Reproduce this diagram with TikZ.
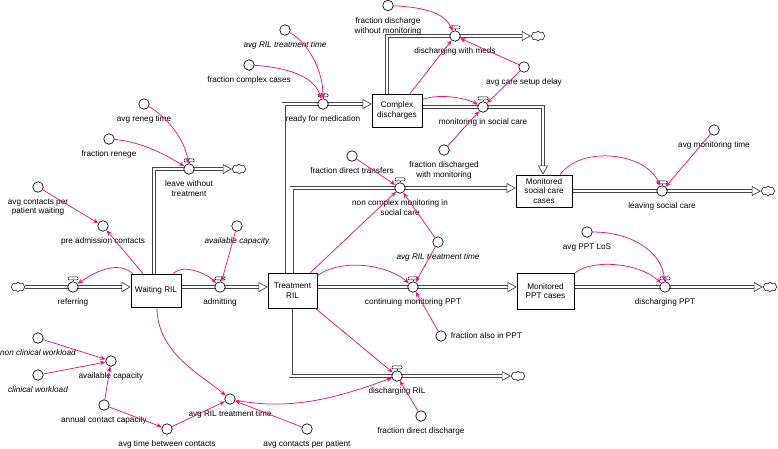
\documentclass[tikz,border=0pt]{standalone}
\usepackage{fontspec}
\setmainfont{Liberation Sans}
\usetikzlibrary{arrows.meta,shapes.symbols,calc,backgrounds}
\definecolor{lnk}{RGB}{240,20,125}
\begin{document}
\begin{tikzpicture}[x=1pt,y=-1pt,
  every node/.style={font=\fontsize{8.2}{9.8}\selectfont},
  stock/.style={draw=black, line width=0.8pt, fill=white, align=center, inner sep=1pt},
  aux/.style={circle, draw=black, line width=0.65pt, fill=white, minimum size=10.5pt, inner sep=0pt},
  valve/.style={circle, draw=black, line width=0.65pt, fill=white, minimum size=10.5pt, inner sep=0pt},
  lab/.style={align=center, inner sep=1pt, yshift=-5pt},
  rlab/.style={align=left, inner sep=1pt, xshift=3pt},
  ghost/.style={font=\fontsize{8.2}{9.8}\selectfont\itshape},
  cloudnode/.style={cloud, cloud puffs=8, draw=black, line width=0.5pt, fill=white, minimum width=14pt, minimum height=10pt, inner sep=0pt, aspect=1.5},
  pipe/.style={draw=black!72, line width=4pt, postaction={draw=white, line width=2.2pt}},
  pipetip/.style={draw=black!80, line width=0.6pt, -{Triangle[length=9pt,width=10pt,fill=white]}},
  link/.style={draw=lnk, line width=0.75pt, -{Stealth[length=5.5pt,width=4.5pt]}},
  handle/.style={draw=black, line width=0.5pt, fill=white, rounded corners=1pt},
]
\useasboundingbox (0,0) rectangle (778,448);

% stocks
\node[stock, minimum width=50pt, minimum height=33pt] (WR) at (156,290.5) {Waiting RIL};
\node[stock, minimum width=49pt, minimum height=35pt] (TR) at (292.5,290.5) {Treatment\\RIL};
\node[stock, minimum width=50pt, minimum height=33pt] (CD) at (397,110.5) {Complex\\discharges};
\node[stock, minimum width=56pt, minimum height=32pt] (MS) at (544,191) {Monitored\\social care\\cases};
\node[stock, minimum width=57pt, minimum height=36pt] (MP) at (545.5,291) {Monitored\\PPT cases};

% clouds
\node[cloudnode] (c0) at (18,287) {};
\node[cloudnode] (c1) at (239,169) {};
\node[cloudnode] (c2) at (538,36) {};
\node[cloudnode] (c3) at (518,376) {};
\node[cloudnode] (c4) at (768,191) {};
\node[cloudnode] (c5) at (770,287) {};

% valves
\node[valve, label={[lab]below:referring}] (vRef) at (73,287) {};
\node[valve, label={[lab]below:admitting}] (vAdm) at (220,287) {};
\node[valve, label={[lab]below:leave without\\treatment}] (vLeave) at (189,169) {};
\node[valve, label={[lab]below:ready for medication}] (vReady) at (323,104) {};
\node[valve, label={[lab]below:non complex monitoring in\\social care}] (vNonC) at (400,188) {};
\node[valve, label={[lab]below:continuing monitoring PPT}] (vCont) at (413,287) {};
\node[valve, label={[lab]below:discharging RIL}] (vDisR) at (397,376) {};
\node[valve, label={[lab]below:discharging with meds}] (vMeds) at (455,36) {};
\node[valve, label={[lab]below:monitoring in social care}] (vMon) at (483,107) {};
\node[valve, label={[lab]below:leaving social care}] (vLeaveS) at (662,191) {};
\node[valve, label={[lab]below:discharging PPT}] (vDisP) at (665,287) {};

\foreach \v in {vRef,vAdm,vLeave,vReady,vNonC,vCont,vDisR,vMeds,vMon,vLeaveS,vDisP}{
  \draw[line width=0.6pt] (\v.north) -- ([yshift=1.6pt]\v.north);
  \draw[handle] ([xshift=-5pt,yshift=1.5pt]\v.north) rectangle ([xshift=5pt,yshift=4.6pt]\v.north);
}

% auxiliaries
\node[aux, label={[lab]below:avg reneg time}] (rt) at (144,104) {};
\node[aux, label={[lab]below:fraction renege}] (fr) at (109,139) {};
\node[aux, label={[lab]below:avg contacts per\\patient waiting}] (acpw) at (38,187) {};
\node[aux, label={[lab]below:pre admission contacts}] (pac) at (103,226) {};
\node[aux, label={[lab,ghost]below:available capacity}] (acapG) at (237,226) {};
\node[aux, label={[lab,ghost]below:non clinical workload}] (ncw) at (38,338) {};
\node[aux, label={[lab,ghost]below:clinical workload}] (cw) at (38,375) {};
\node[aux, label={[lab]below:available capacity}] (acap) at (111,361) {};
\node[aux, label={[lab]below:annual contact capacity}] (acc) at (104,405) {};
\node[aux, label={[lab]below:avg time between contacts}] (atbc) at (167,429) {};
\node[aux, label={[lab]below:avg RIL treatment time}] (aril) at (230,399) {};
\node[aux, label={[lab]below:avg contacts per patient}] (acpp) at (307,429) {};
\node[aux, label={[lab]below:fraction direct discharge}] (fdd) at (421,416) {};
\node[aux, label={[rlab]right:fraction also in PPT}] (fap) at (441,336) {};
\node[aux, label={[lab,ghost]below:avg RIL treatment time}] (arilM) at (438,242) {};
\node[aux, label={[lab]below:fraction direct transfers}] (fdt) at (352,156) {};
\node[aux, label={[lab]below:fraction discharged\\with monitoring}] (fdwmon) at (444,150) {};
\node[aux, label={[lab]below:fraction complex cases}] (fcc) at (249,65) {};
\node[aux, label={[lab,ghost]below:avg RIL treatment time}] (arilT) at (285,30) {};
\node[aux, label={[lab]below:fraction discharge\\without monitoring}] (fdwm) at (388,5.5) {};
\node[aux, label={[lab]below:avg care setup delay}] (acsd) at (524,67) {};
\node[aux, label={[lab]below:avg monitoring time}] (amt) at (714,130) {};
\node[aux, label={[lab]below:avg PPT LoS}] (appt) at (587,232) {};

% pipes
\begin{scope}[on background layer]
\draw[pipe] (c0.east) -- (vRef.center) -- ($(WR.west |- vRef)+(-9,0)$);
\draw[pipe] (WR.east |- vAdm) -- (vAdm.center) -- ($(TR.west |- vAdm)+(-9,0)$);
\draw[pipe] ([xshift=-2pt]WR.north) |- (vLeave.center) -- ($(c1.west)+(-8,0)$);
\draw[pipe] ([xshift=-9pt]TR.north) |- (vReady.center) -- ($(CD.west |- vReady)+(-9,0)$);
\draw[pipe] ([xshift=-1pt]TR.north) |- (vNonC.center) -- ($(MS.west |- vNonC)+(-9,0)$);
\draw[pipe] (TR.east |- vCont) -- (vCont.center) -- ($(MP.west |- vCont)+(-9,0)$);
\draw[pipe] ([xshift=-2pt]TR.south) |- (vDisR.center) -- ($(c3.west)+(-8,0)$);
\draw[pipe] ([xshift=-10pt]CD.north) |- (vMeds.center) -- ($(c2.west)+(-8,0)$);
\draw[pipe] (CD.east |- vMon) -- (vMon.center) -| ($(MS.north)+(-1,-9)$);
\draw[pipe] (MS.east |- vLeaveS) -- (vLeaveS.center) -- ($(c4.west)+(-8,0)$);
\draw[pipe] (MP.east |- vDisP) -- (vDisP.center) -- ($(c5.west)+(-8,0)$);
\end{scope}
% pipe heads
\draw[pipetip] ($(WR.west |- vRef)+(-9,0)$) -- (WR.west |- vRef);
\draw[pipetip] ($(TR.west |- vAdm)+(-9,0)$) -- (TR.west |- vAdm);
\draw[pipetip] ($(c1.west)+(-8,0)$) -- (c1.west);
\draw[pipetip] ($(CD.west |- vReady)+(-9,0)$) -- (CD.west |- vReady);
\draw[pipetip] ($(MS.west |- vNonC)+(-9,0)$) -- (MS.west |- vNonC);
\draw[pipetip] ($(MP.west |- vCont)+(-9,0)$) -- (MP.west |- vCont);
\draw[pipetip] ($(c3.west)+(-8,0)$) -- (c3.west);
\draw[pipetip] ($(c2.west)+(-8,0)$) -- (c2.west);
\draw[pipetip] ($(MS.north)+(-1,-9)$) -- ([xshift=-1pt]MS.north);
\draw[pipetip] ($(c4.west)+(-8,0)$) -- (c4.west);
\draw[pipetip] ($(c5.west)+(-8,0)$) -- (c5.west);

% information links
\draw[link] (rt) .. controls +(22,12) and +(-4,-30) .. (vLeave);
\draw[link] (fr) .. controls +(35,3) and +(-20,-12) .. (vLeave);
\draw[link] (acpw) -- (pac);
\draw[link] ([xshift=-13pt]WR.north) -- (pac);
\draw[link] ([xshift=2pt]WR.north west) .. controls +(-15,-14) and +(20,-14) .. (vRef);
\draw[link] ([xshift=17pt]WR.north) .. controls +(10,-10) and +(-14,-14) .. (vAdm);
\draw[link] (acapG) -- (vAdm);
\draw[link] ([xshift=1pt]WR.south) .. controls +(0,45) and +(-30,-25) .. (aril);
\draw[link] (ncw) -- (acap);
\draw[link] (cw) -- (acap);
\draw[link] (acc) -- (acap);
\draw[link] (acc) -- (atbc);
\draw[link] (atbc) -- (aril);
\draw[link] (acpp) -- (aril);
\draw[link] (aril) .. controls +(60,12) and +(-60,22) .. (vDisR);
\draw[link] ([xshift=-2pt]TR.south east) -- (vDisR);
\draw[link] (fdd) -- (vDisR);
\draw[link] ([xshift=-7pt]TR.north east) -- (vNonC);
\draw[link] ([yshift=-3pt]TR.north east) .. controls +(25,-18) and +(-25,-22) .. (vCont);
\draw[link] (arilM) -- (vCont);
\draw[link] (arilM) -- (vNonC);
\draw[link] (fap) -- (vCont);
\draw[link] (fdt) -- (vNonC);
\draw[link] (fcc) .. controls +(45,3) and +(-8,-25) .. (vReady);
\draw[link] (arilT) .. controls +(22,12) and +(0,-35) .. (vReady);
\draw[link] (fdwm) .. controls +(40,2) and +(-10,-22) .. (vMeds);
\draw[link] ([xshift=13pt]CD.north) -- (vMeds);
\draw[link] (acsd) -- (vMeds);
\draw[link] (acsd) -- (vMon);
\draw[link] ([yshift=-6pt]CD.north east) .. controls +(15,-6) and +(-20,-10) .. (vMon);
\draw[link] (fdwmon) -- (vMon);
\draw[link] ([xshift=16pt]MS.north) .. controls +(22,-30) and +(-15,-38) .. (vLeaveS);
\draw[link] (amt) -- (vLeaveS);
\draw[link] ([xshift=1pt]MP.north east) .. controls +(18,-14) and +(-25,-24) .. (vDisP);
\draw[link] (appt) .. controls +(45,0) and +(-3,-35) .. (vDisP);
\end{tikzpicture}
\end{document}
